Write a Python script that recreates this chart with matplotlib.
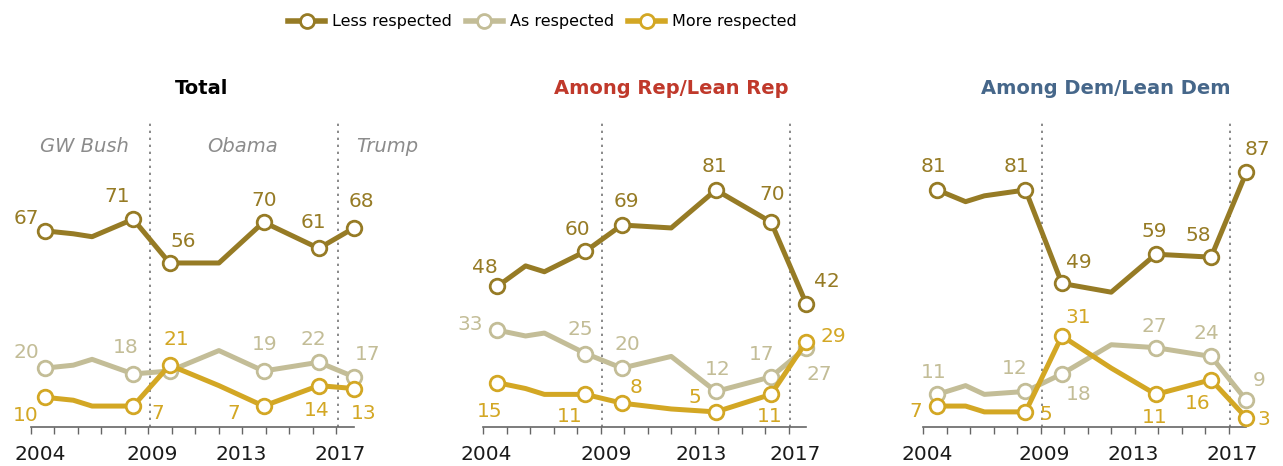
import numpy as np
import matplotlib
matplotlib.use('Agg')
import matplotlib.pyplot as plt
from matplotlib import font_manager
from matplotlib.lines import Line2D

# survey dates (decimal years) and which ones carry a marker
years = [2004.6, 2005.8, 2006.6, 2008.35, 2009.9, 2012.0, 2013.9, 2016.25, 2017.75]
marked = [True, False, False, True, True, False, True, True, True]

series_names = ['Less respected', 'As respected', 'More respected']

total_less = [67, 66, 65, 71, 56, 56, 70, 61, 68]
total_as = [20, 21, 23, 18, 19, 26, 19, 22, 17]
total_more = [10, 9, 7, 7, 21, 14, 7, 14, 13]

rep_less = [48, 55, 53, 60, 69, 68, 81, 70, 42]
rep_as = [33, 31, 32, 25, 20, 24, 12, 17, 27]
rep_more = [15, 13, 11, 11, 8, 6, 5, 11, 29]

dem_less = [81, 77, 79, 81, 49, 46, 59, 58, 87]
dem_as = [11, 14, 11, 12, 18, 28, 27, 24, 9]
dem_more = [7, 7, 5, 5, 31, 20, 11, 16, 3]

panel_titles = ['Total', 'Among Rep/Lean Rep', 'Among Dem/Lean Dem']
year_labels = ['2004', '2009', '2013', '2017']
era_labels = ['GW Bush', 'Obama', 'Trump']

colors = {
    'Less respected': '#967b25',
    'As respected': '#c3bd97',
    'More respected': '#d3a724',
}
title_colors = ['#000000', '#c0392b', '#46678a']

# label offsets in pixels (dx, dy up) for each labelled point, None = no label
offsets = [
    {'Less respected': [(-19, 14), None, None, (-16, 24), (14, 23), None, (1, 23), (-5, 28), (7, 28)],
     'As respected': [(-19, 17), None, None, (-7, 28), None, None, (1, 28), (-5, 25), (14, 24)],
     'More respected': [(-19, -16), None, None, (25, -6), (7, 27), None, (-30, -6), (-2, -23), (10, -23)]},
    {'Less respected': [(-13, 21), None, None, (-8, 24), (4, 25), None, (-1, 25), (1, 29), (21, 24)],
     'As respected': [(-27, 7), None, None, (-5, 26), (5, 25), None, (2, 24), (-9, 24), (13, -25)],
     'More respected': [(-8, -27), None, None, (-16, -20), (14, 17), None, (-21, 16), (-1, -20), (27, 7)]},
    {'Less respected': [(-4, 25), None, None, (-9, 25), (17, 23), None, (-2, 25), (-13, 23), (11, 25)],
     'As respected': [(-4, 24), None, None, (-11, 25), (17, -19), None, (-2, 23), (-5, 25), (13, 22)],
     'More respected': [(-22, -4), None, None, (20, -1), (16, 20), None, (-1, -21), (-13, -22), (18, 0)]},
]

W, H = 1283, 466
panel_left = [31, 483.3, 923.3]
title_x = [201.7, 671.7, 1105.7]
year_label_x = [[2004.4, 2009.17, 2012.93, 2017.18],
                [2004.14, 2009.25, 2013.29, 2017.26],
                [2004.18, 2009.14, 2012.93, 2017.16]]
era_x = [2006.28, 2013.02, 2019.15]
num_size = 14.5


def has_font(name):
    try:
        font_manager.findfont(font_manager.FontProperties(family=name), fallback_to_default=False)
        return True
    except ValueError:
        return False


if has_font('Liberation Sans Narrow'):
    legend_font, legend_size = 'Liberation Sans Narrow', 14
else:
    legend_font, legend_size = 'DejaVu Sans', 11.5

plt.rcParams['font.family'] = ['DejaVu Sans']

fig = plt.figure(figsize=(W / 100, H / 100), dpi=100)

panels = [
    {'Less respected': total_less, 'As respected': total_as, 'More respected': total_more},
    {'Less respected': rep_less, 'As respected': rep_as, 'More respected': rep_more},
    {'Less respected': dem_less, 'As respected': dem_as, 'More respected': dem_more},
]

x = np.array(years)
m = np.array(marked)

for i, data in enumerate(panels):
    ax = fig.add_axes([panel_left[i] / W, (H - 426.5) / H, 323 / W, 306.6 / H])
    ax.set_xlim(2004, 2017.75)
    ax.set_ylim(0, 105)
    for side in ['top', 'right', 'left']:
        ax.spines[side].set_visible(False)
    ax.spines['bottom'].set_color('#666666')
    ax.spines['bottom'].set_linewidth(1.2)
    ax.set_xticks(range(2004, 2018))
    ax.set_yticks([])
    ax.tick_params(axis='x', length=5, width=1, color='#666666', labelbottom=False)

    # presidency changes
    for xv in [2009.05, 2017.05]:
        ax.axvline(xv, color='#8a8a8a', ls=(0, (1.2, 2.4)), lw=1.4, zorder=1)

    for z, name in enumerate(series_names):
        c = colors[name]
        y = np.array(data[name])
        ax.plot(x, y, color=c, lw=3.6, zorder=3 + z, solid_capstyle='round', clip_on=False)
        ax.plot(x[m], y[m], 'o', ms=10.5, mfc='white', mec=c, mew=2, zorder=3 + z, clip_on=False)
        for j, off in enumerate(offsets[i][name]):
            if off is None:
                continue
            ax.annotate(str(y[j]), xy=(x[j], y[j]), xytext=(off[0], off[1] - 7.3),
                        textcoords='offset pixels', ha='center', va='baseline',
                        fontsize=num_size, color=c, zorder=10)

    for lab, lx in zip(year_labels, year_label_x[i]):
        ax.annotate(lab, xy=(lx, 0), xycoords=('data', 'axes fraction'), xytext=(0, -33.5),
                    textcoords='offset pixels', ha='center', va='baseline',
                    fontsize=num_size, color='#1a1a1a')

    if i == 0:
        for lab, ex in zip(era_labels, era_x):
            ax.text(ex, 94, lab, ha='center', va='baseline', style='italic',
                    fontsize=14, color='#8c8c8c')

    fig.text(title_x[i] / W, 1 - 93.5 / H, panel_titles[i], ha='center', va='baseline',
             fontsize=14, fontweight='bold', color=title_colors[i])

# legend
fs_px = legend_size * 100 / 72
handles = [Line2D([], [], color=colors[n], lw=4, marker='o', ms=10, mfc='white',
                  mec=colors[n], mew=2) for n in series_names]
fig.legend(handles, series_names, loc='center left', bbox_to_anchor=(288 / W, 1 - 21.7 / H),
           ncol=3, frameon=False, numpoints=1, borderpad=0, borderaxespad=0,
           handlelength=37 / fs_px, handletextpad=7 / fs_px, columnspacing=14 / fs_px,
           prop={'family': legend_font, 'size': legend_size})

fig.savefig('out.png', dpi=100)
